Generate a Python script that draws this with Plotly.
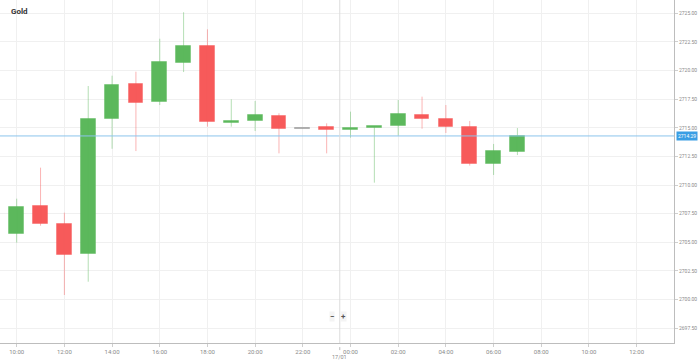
import plotly.graph_objects as go

times = ["2025-01-16 10:00", "2025-01-16 11:00", "2025-01-16 12:00", "2025-01-16 13:00",
         "2025-01-16 14:00", "2025-01-16 15:00", "2025-01-16 16:00", "2025-01-16 17:00",
         "2025-01-16 18:00", "2025-01-16 19:00", "2025-01-16 20:00", "2025-01-16 21:00",
         "2025-01-16 22:00", "2025-01-16 23:00", "2025-01-17 00:00", "2025-01-17 01:00",
         "2025-01-17 02:00", "2025-01-17 03:00", "2025-01-17 04:00", "2025-01-17 05:00",
         "2025-01-17 06:00", "2025-01-17 07:00"]
opens = [2705.70, 2708.17, 2706.60, 2703.95, 2715.74, 2718.80, 2717.25, 2720.66,
         2722.12, 2715.45, 2715.62, 2716.06, 2714.90, 2715.07, 2714.83, 2715.00,
         2715.13, 2716.14, 2715.77, 2715.05, 2711.84, 2712.89]
highs = [2708.81, 2711.52, 2707.59, 2718.65, 2719.55, 2719.90, 2722.78, 2725.09,
         2723.60, 2717.49, 2717.34, 2716.27, 2714.90, 2715.39, 2716.41, 2715.10,
         2717.43, 2717.72, 2716.99, 2715.60, 2713.59, 2714.98]
lows = [2704.97, 2706.45, 2700.40, 2701.56, 2713.17, 2712.97, 2716.99, 2719.87,
        2715.10, 2715.10, 2714.72, 2712.77, 2714.90, 2712.77, 2714.14, 2710.21,
        2714.31, 2714.92, 2714.55, 2711.70, 2710.88, 2712.62]
closes = [2708.11, 2706.57, 2703.92, 2715.74, 2718.74, 2717.17, 2720.75, 2722.12,
          2715.48, 2715.55, 2716.09, 2714.92, 2714.90, 2714.83, 2714.98, 2715.06,
          2716.18, 2715.74, 2715.07, 2711.85, 2712.97, 2714.29]
current_price = 2714.29
x_ticks = ["2025-01-16 10:00", "2025-01-16 12:00", "2025-01-16 14:00", "2025-01-16 16:00",
           "2025-01-16 18:00", "2025-01-16 20:00", "2025-01-16 22:00", "2025-01-17 00:00",
           "2025-01-17 02:00", "2025-01-17 04:00", "2025-01-17 06:00", "2025-01-17 08:00",
           "2025-01-17 10:00", "2025-01-17 12:00"]
x_tick_labels = ["10:00", "12:00", "14:00", "16:00", "18:00", "20:00", "22:00", "00:00",
                 "02:00", "04:00", "06:00", "08:00", "10:00", "12:00"]

GREEN = "#5cb85c"
RED = "#f75a5a"
GRAY = "#9a9a9a"
GREEN_W = "rgba(92,184,92,0.45)"
RED_W = "rgba(247,90,90,0.45)"
GRAY_W = "rgba(150,150,150,0.5)"

fig = go.Figure()

wick_groups = {GREEN_W: ([], []), RED_W: ([], []), GRAY_W: ([], [])}
body_colors, edge_colors, bases, heights = [], [], [], []
for t, o, h, l, c in zip(times, opens, highs, lows, closes):
    if c > o:
        col, wc = GREEN, GREEN_W
    elif c < o:
        col, wc = RED, RED_W
    else:
        col, wc = GRAY, GRAY_W
    body_colors.append(col)
    edge_colors.append(wc)
    bases.append(min(o, c))
    heights.append(max(abs(c - o), 0.12))
    if h > l:
        wick_groups[wc][0].extend([t, t, None])
        wick_groups[wc][1].extend([l, h, None])

for wc, (xs, ys) in wick_groups.items():
    if xs:
        fig.add_trace(go.Scatter(x=xs, y=ys, mode="lines",
                                 line=dict(color=wc, width=1),
                                 hoverinfo="skip", showlegend=False))

fig.add_trace(go.Bar(x=times, y=heights, base=bases,
                     width=[0.62 * 3600000] * len(times),
                     marker=dict(color=body_colors, line=dict(color=edge_colors, width=1)),
                     showlegend=False, hoverinfo="skip"))

# current price line
fig.add_shape(type="line", xref="paper", x0=0, x1=1, yref="y",
              y0=current_price, y1=current_price,
              line=dict(color="#8cc4ec", width=1))
fig.add_annotation(xref="paper", x=1.003, yref="y", y=current_price,
                   text=f"{current_price:.2f}", showarrow=False, xanchor="left",
                   font=dict(size=5, color="white", family="Roboto"),
                   bgcolor="#3a9ee4", borderpad=1)

# crosshair vertical line and date label
fig.add_shape(type="line", xref="x", x0="2025-01-16 23:33", x1="2025-01-16 23:33",
              yref="paper", y0=0, y1=1, line=dict(color="#dcdcdc", width=1))
fig.add_shape(type="line", xref="x", x0="2025-01-16 23:33", x1="2025-01-16 23:33",
              yref="paper", y0=-0.012, y1=-0.03, line=dict(color="#bbbbbb", width=1, dash="dot"))
fig.add_annotation(xref="x", x="2025-01-16 23:33", yref="paper", y=-0.041,
                   text="17/01", showarrow=False, yanchor="middle",
                   font=dict(size=5.5, color="#8a8a8a", family="Roboto"))

# zoom buttons
fig.add_annotation(xref="paper", x=0.492, yref="paper", y=0.06,
                   text="<b>−</b>", showarrow=False,
                   font=dict(size=8, color="#555", family="Roboto"),
                   bgcolor="#f4f4f4", borderpad=0)
fig.add_annotation(xref="paper", x=0.509, yref="paper", y=0.06,
                   text="<b>+</b>", showarrow=False,
                   font=dict(size=8, color="#555", family="Roboto"),
                   bgcolor="#f4f4f4", borderpad=0)

# title
fig.add_annotation(xref="paper", x=0.013, yref="paper", y=0.985,
                   text="<b>Gold</b>", showarrow=False, xanchor="left", yanchor="top",
                   font=dict(size=8, color="#333", family="Roboto"))

fig.update_layout(
    width=699, height=361,
    margin=dict(l=0, r=25, t=0, b=18),
    paper_bgcolor="white", plot_bgcolor="white",
    bargap=0, showlegend=False,
    xaxis=dict(type="date", range=["2025-01-16 09:18", "2025-01-17 13:34"],
               tickvals=x_ticks, ticktext=x_tick_labels,
               showgrid=True, gridcolor="#f0f0f0", gridwidth=1,
               showline=True, linecolor="#bdbdbd", linewidth=1,
               ticks="outside", ticklen=3, tickcolor="#cfcfcf",
               tickfont=dict(size=6, color="#8a8a8a", family="Roboto"),
               zeroline=False, fixedrange=True),
    yaxis=dict(side="right", range=[2696.21, 2726.16],
               tick0=2500, dtick=2.5, tickformat=".2f",
               showgrid=True, gridcolor="#f0f0f0", gridwidth=1,
               showline=True, linecolor="#bdbdbd", linewidth=1,
               ticks="outside", ticklen=3, tickcolor="#cfcfcf",
               tickfont=dict(size=5, color="#8a8a8a", family="Roboto"),
               zeroline=False, fixedrange=True),
)

fig.write_html("out.html", config={"displayModeBar": False},
               post_script="document.body.style.margin='0';document.body.style.overflow='hidden';")
